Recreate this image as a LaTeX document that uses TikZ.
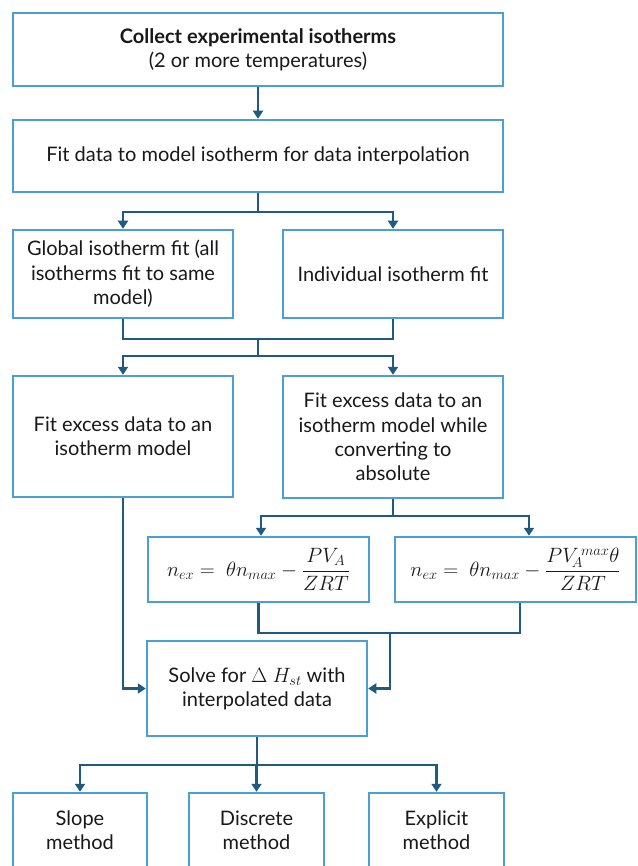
\documentclass[tikz,border=0pt]{standalone}
\usepackage{fontspec}
\setmainfont{Lato}
\usetikzlibrary{arrows.meta}
\definecolor{boxblue}{RGB}{74,160,212}
\definecolor{linkblue}{RGB}{31,90,128}
\definecolor{txt}{RGB}{25,25,25}
\begin{document}
\begin{tikzpicture}[x=1pt,y=-1pt,
  box/.style={draw=boxblue, line width=2.5pt, align=center, inner sep=0pt,
    font=\fontsize{20}{24.3}\selectfont, text=txt},
  mbox/.style={box, font=\fontsize{21}{24}\selectfont},
  link/.style={draw=linkblue, line width=2.5pt},
  arr/.style={link, -{Triangle[width=10pt,length=8pt]}}]
\clip (0,0) rectangle (637,866);
\fill[white] (0,0) rectangle (637,866);

\node[box, minimum width=490pt, minimum height=73pt] (b1) at (258,49.5)
  {\textbf{Collect experimental isotherms}\\(2 or more temperatures)};
\node[box, minimum width=490pt, minimum height=72pt] (b2) at (258,156)
  {Fit data to model isotherm for data interpolation};
\node[box, minimum width=220pt, minimum height=88pt] (b3) at (123,274)
  {Global isotherm fit (all\\isotherms fit to same\\model)};
\node[box, minimum width=220pt, minimum height=88pt] (b4) at (393,274)
  {Individual isotherm fit};
\node[box, minimum width=220pt, minimum height=121pt] (b5) at (123,436.5)
  {Fit excess data to an\\isotherm model};
\node[box, minimum width=220pt, minimum height=122pt] (b6) at (393,437)
  {Fit excess data to an\\isotherm model while\\converting to\\absolute};
\node[mbox, minimum width=221pt, minimum height=65pt] (b7) at (258.5,569.5)
  {$n_{ex} =\ \theta n_{max} - \displaystyle\frac{PV_A}{ZRT}$};
\node[mbox, minimum width=241pt, minimum height=65pt] (b8) at (515.5,569.5)
  {$n_{ex} =\ \theta n_{max} - \displaystyle\frac{PV_{\!A}^{\,max}\theta}{ZRT}$};
\node[box, minimum width=220pt, minimum height=95pt] (b9) at (257,688.5)
  {Solve for $\Delta$ $H_{st}$ with\\interpolated data};
\node[box, minimum width=134pt, minimum height=75pt] (b10) at (80,830.5)
  {Slope\\method};
\node[box, minimum width=135pt, minimum height=75pt] (b11) at (256.5,830.5)
  {Discrete\\method};
\node[box, minimum width=135pt, minimum height=75pt] (b12) at (436.5,830.5)
  {Explicit\\method};

% connectors
\draw[arr] (b1.south) -- (b2.north);
\coordinate (s1) at (258,212);
\draw[link] (b2.south) -- (s1);
\draw[arr] (s1) -| (b3.north);
\draw[arr] (s1) -| (b4.north);

\coordinate (m1) at (258,339);
\draw[link] (b3.south) |- (m1);
\draw[link] (b4.south) |- (m1);
\coordinate (s2) at (258,356);
\draw[link] (m1) -- (s2);
\draw[arr] (s2) -| (b5.north);
\draw[arr] (s2) -| (b6.north);

\coordinate (s3) at (393,516);
\draw[link] (b6.south) -- (s3);
\draw[arr] (s3) -| ([xshift=2.5pt]b7.north);
\draw[arr] (s3) -| ([xshift=13.5pt]b8.north);

\coordinate (j1) at (258.5,633);
\coordinate (j2) at (520,633);
\coordinate (m3) at (390,633);
\draw[link] (b7.south) -- (j1) -- (j2) -- ([xshift=4.5pt]b8.south);
\draw[arr] (m3) |- (b9.east);
\draw[arr] (b5.south) |- (b9.west);

\coordinate (s4) at (257,765);
\draw[link] (b9.south) -- (s4);
\draw[arr] (s4) -| (b10.north);
\draw[arr] (s4) -| (b11.north);
\draw[arr] (s4) -| (b12.north);
\end{tikzpicture}
\end{document}
